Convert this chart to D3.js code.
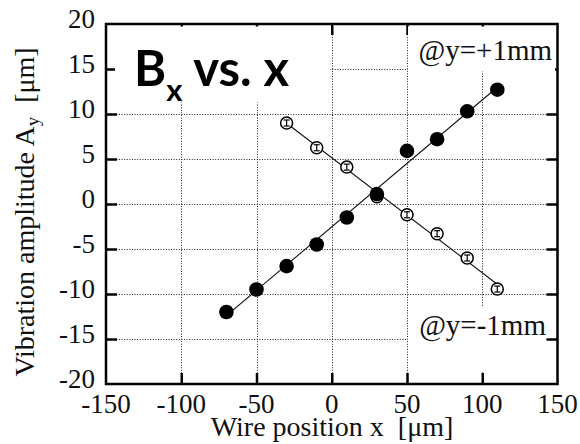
<!DOCTYPE html>
<html>
<head>
<meta charset="utf-8">
<script src="https://cdn.jsdelivr.net/npm/d3@7"></script>
<style>
  html, body { margin: 0; padding: 0; background: #fff; }
  svg { display: block; }
</style>
</head>
<body>
<svg id="chart" width="580" height="444"></svg>
<script>
// ---- data ----
const xTicks = [-150, -100, -50, 0, 50, 100, 150];
const yTicks = [-20, -15, -10, -5, 0, 5, 10, 15, 20];
const xGrid = [-100, -50, 0, 50, 100];
const yGrid = [-15, -10, -5, 0, 5, 10, 15];

// @y=+1mm (filled circles)
const xPlus = [-70, -50, -30, -10, 10, 30, 50, 70, 90, 110];
const yPlus = [-12.0, -9.5, -6.9, -4.5, -1.5, 1.1, 5.9, 7.2, 10.3, 12.7];
// @y=-1mm (open circles)
const xMinus = [-30, -10, 10, 30, 50, 70, 90, 110];
const yMinus = [9.0, 6.25, 4.1, 0.8, -1.2, -3.3, -6.0, -9.45];

const titleText = "B";
const titleSub = "x";
const titleRest = " vs. x";
const labelPlus = "@y=+1mm";
const labelMinus = "@y=-1mm";

// ---- layout ----
const svg = d3.select("#chart");
const x = d3.scaleLinear().domain([-150, 150]).range([106, 557.5]);
const y = d3.scaleLinear().domain([-20, 20]).range([384, 24]);
const serif = "'Liberation Serif', 'Times New Roman', serif";

svg.append("rect").attr("width", 580).attr("height", 444).attr("fill", "#fff");

// grid
const grid = svg.append("g").attr("stroke", "#222").attr("stroke-width", 1)
  .attr("stroke-dasharray", "1,1.6");
grid.selectAll("line.v").data(xGrid).join("line").attr("class", "v")
  .attr("x1", d => Math.round(x(d)) + 0.5).attr("x2", d => Math.round(x(d)) + 0.5)
  .attr("y1", y(20)).attr("y2", y(-20));
grid.selectAll("line.h").data(yGrid).join("line").attr("class", "h")
  .attr("y1", d => Math.round(y(d)) + 0.5).attr("y2", d => Math.round(y(d)) + 0.5)
  .attr("x1", x(-150)).attr("x2", x(150));

// ticks via axes (inward)
function styleTicks(g) {
  g.select(".domain").remove();
  g.selectAll(".tick line").attr("stroke", "#000").attr("stroke-width", 2.5);
  g.selectAll(".tick text").remove();
}
svg.append("g").attr("transform", `translate(0,${y(-20)})`)
  .call(d3.axisBottom(x).tickValues(xGrid).tickSizeInner(-11).tickSizeOuter(0)).call(styleTicks);
svg.append("g").attr("transform", `translate(0,${y(20)})`)
  .call(d3.axisTop(x).tickValues(xGrid).tickSizeInner(-11).tickSizeOuter(0)).call(styleTicks);
svg.append("g").attr("transform", `translate(${x(-150)},0)`)
  .call(d3.axisLeft(y).tickValues(yGrid).tickSizeInner(-11).tickSizeOuter(0)).call(styleTicks);
svg.append("g").attr("transform", `translate(${x(150)},0)`)
  .call(d3.axisRight(y).tickValues(yGrid).tickSizeInner(-11).tickSizeOuter(0)).call(styleTicks);

// white label boxes (cover grid)
svg.append("rect").attr("x", 115).attr("y", 26.5).attr("width", 215).attr("height", 76).attr("fill", "#fff");
svg.append("rect").attr("x", 408).attr("y", 26.5).attr("width", 147).attr("height", 45).attr("fill", "#fff");
svg.append("rect").attr("x", 408).attr("y", 306).attr("width", 138).attr("height", 66).attr("fill", "#fff");

// frame
svg.append("rect").attr("x", x(-150)).attr("y", y(20))
  .attr("width", x(150) - x(-150)).attr("height", y(-20) - y(20))
  .attr("fill", "none").attr("stroke", "#000").attr("stroke-width", 2.5);

// tick labels
svg.append("g").selectAll("text").data(xTicks).join("text")
  .attr("x", d => x(d)).attr("y", 413)
  .attr("text-anchor", "middle").attr("font-family", serif).attr("font-size", 27)
  .attr("fill", "#111").text(d => d);
svg.append("g").selectAll("text").data(yTicks).join("text")
  .attr("x", 95).attr("y", d => y(d) + 3.5)
  .attr("text-anchor", "end").attr("font-family", serif).attr("font-size", 27)
  .attr("fill", "#111").text(d => d);

// axis titles
svg.append("text").attr("x", 332).attr("y", 436).attr("text-anchor", "middle")
  .attr("font-family", serif).attr("font-size", 28).attr("fill", "#111")
  .text("Wire position x\u00a0\u00a0[\u03bcm]");
const yt = svg.append("text").attr("transform", "translate(34,212) rotate(-90)")
  .attr("text-anchor", "middle").attr("font-family", serif).attr("font-size", 28).attr("fill", "#111");
yt.append("tspan").text("Vibration amplitude A");
yt.append("tspan").attr("font-size", 19).attr("dy", 5).text("y");
yt.append("tspan").attr("dy", -5).text("\u00a0\u00a0[\u03bcm]");

// fit lines
function fit(xs, ys) {
  const n = xs.length, mx = d3.mean(xs), my = d3.mean(ys);
  let sxy = 0, sxx = 0;
  for (let i = 0; i < n; i++) { sxy += (xs[i] - mx) * (ys[i] - my); sxx += (xs[i] - mx) ** 2; }
  const b = sxy / sxx, a = my - b * mx;
  const x0 = d3.min(xs), x1 = d3.max(xs);
  return [[x0, a + b * x0], [x1, a + b * x1]];
}
const line = d3.line().x(d => x(d[0])).y(d => y(d[1]));
svg.append("path").attr("d", line(fit(xPlus, yPlus))).attr("fill", "none").attr("stroke", "#111").attr("stroke-width", 1.1);
svg.append("path").attr("d", line(fit(xMinus, yMinus))).attr("fill", "none").attr("stroke", "#111").attr("stroke-width", 1.1);

// open markers with error bar
const minusPts = xMinus.map((v, i) => [v, yMinus[i]]);
const om = svg.append("g").selectAll("g").data(minusPts).join("g")
  .attr("transform", d => `translate(${x(d[0])},${y(d[1])})`);
om.append("circle").attr("r", 6).attr("fill", "#fff").attr("stroke", "#000").attr("stroke-width", 1.5);
om.append("line").attr("x1", 0).attr("x2", 0).attr("y1", -3).attr("y2", 3).attr("stroke", "#000").attr("stroke-width", 1.2);
om.append("line").attr("x1", -3).attr("x2", 3).attr("y1", -3).attr("y2", -3).attr("stroke", "#000").attr("stroke-width", 1.2);
om.append("line").attr("x1", -3).attr("x2", 3).attr("y1", 3).attr("y2", 3).attr("stroke", "#000").attr("stroke-width", 1.2);

// filled markers
const plusPts = xPlus.map((v, i) => [v, yPlus[i]]);
svg.append("g").selectAll("circle").data(plusPts).join("circle")
  .attr("cx", d => x(d[0])).attr("cy", d => y(d[1])).attr("r", 7.3).attr("fill", "#000");

// labels
svg.append("text").attr("x", 552).attr("y", 60).attr("text-anchor", "end")
  .attr("font-family", serif).attr("font-size", 29).attr("fill", "#111").text(labelPlus);
svg.append("text").attr("x", 546).attr("y", 335).attr("text-anchor", "end")
  .attr("font-family", serif).attr("font-size", 29).attr("fill", "#111").text(labelMinus);

const tt = svg.append("text").attr("x", 134).attr("y", 86)
  .attr("font-family", "Lato, 'Open Sans', sans-serif").attr("font-weight", "bold")
  .attr("font-size", 49).attr("fill", "#000");
tt.append("tspan").text(titleText);
tt.append("tspan").attr("font-size", 31).attr("dy", 15).text(titleSub);
tt.append("tspan").attr("dy", -15).text("\u00a0vs.\u00a0x");
</script>
</body>
</html>
